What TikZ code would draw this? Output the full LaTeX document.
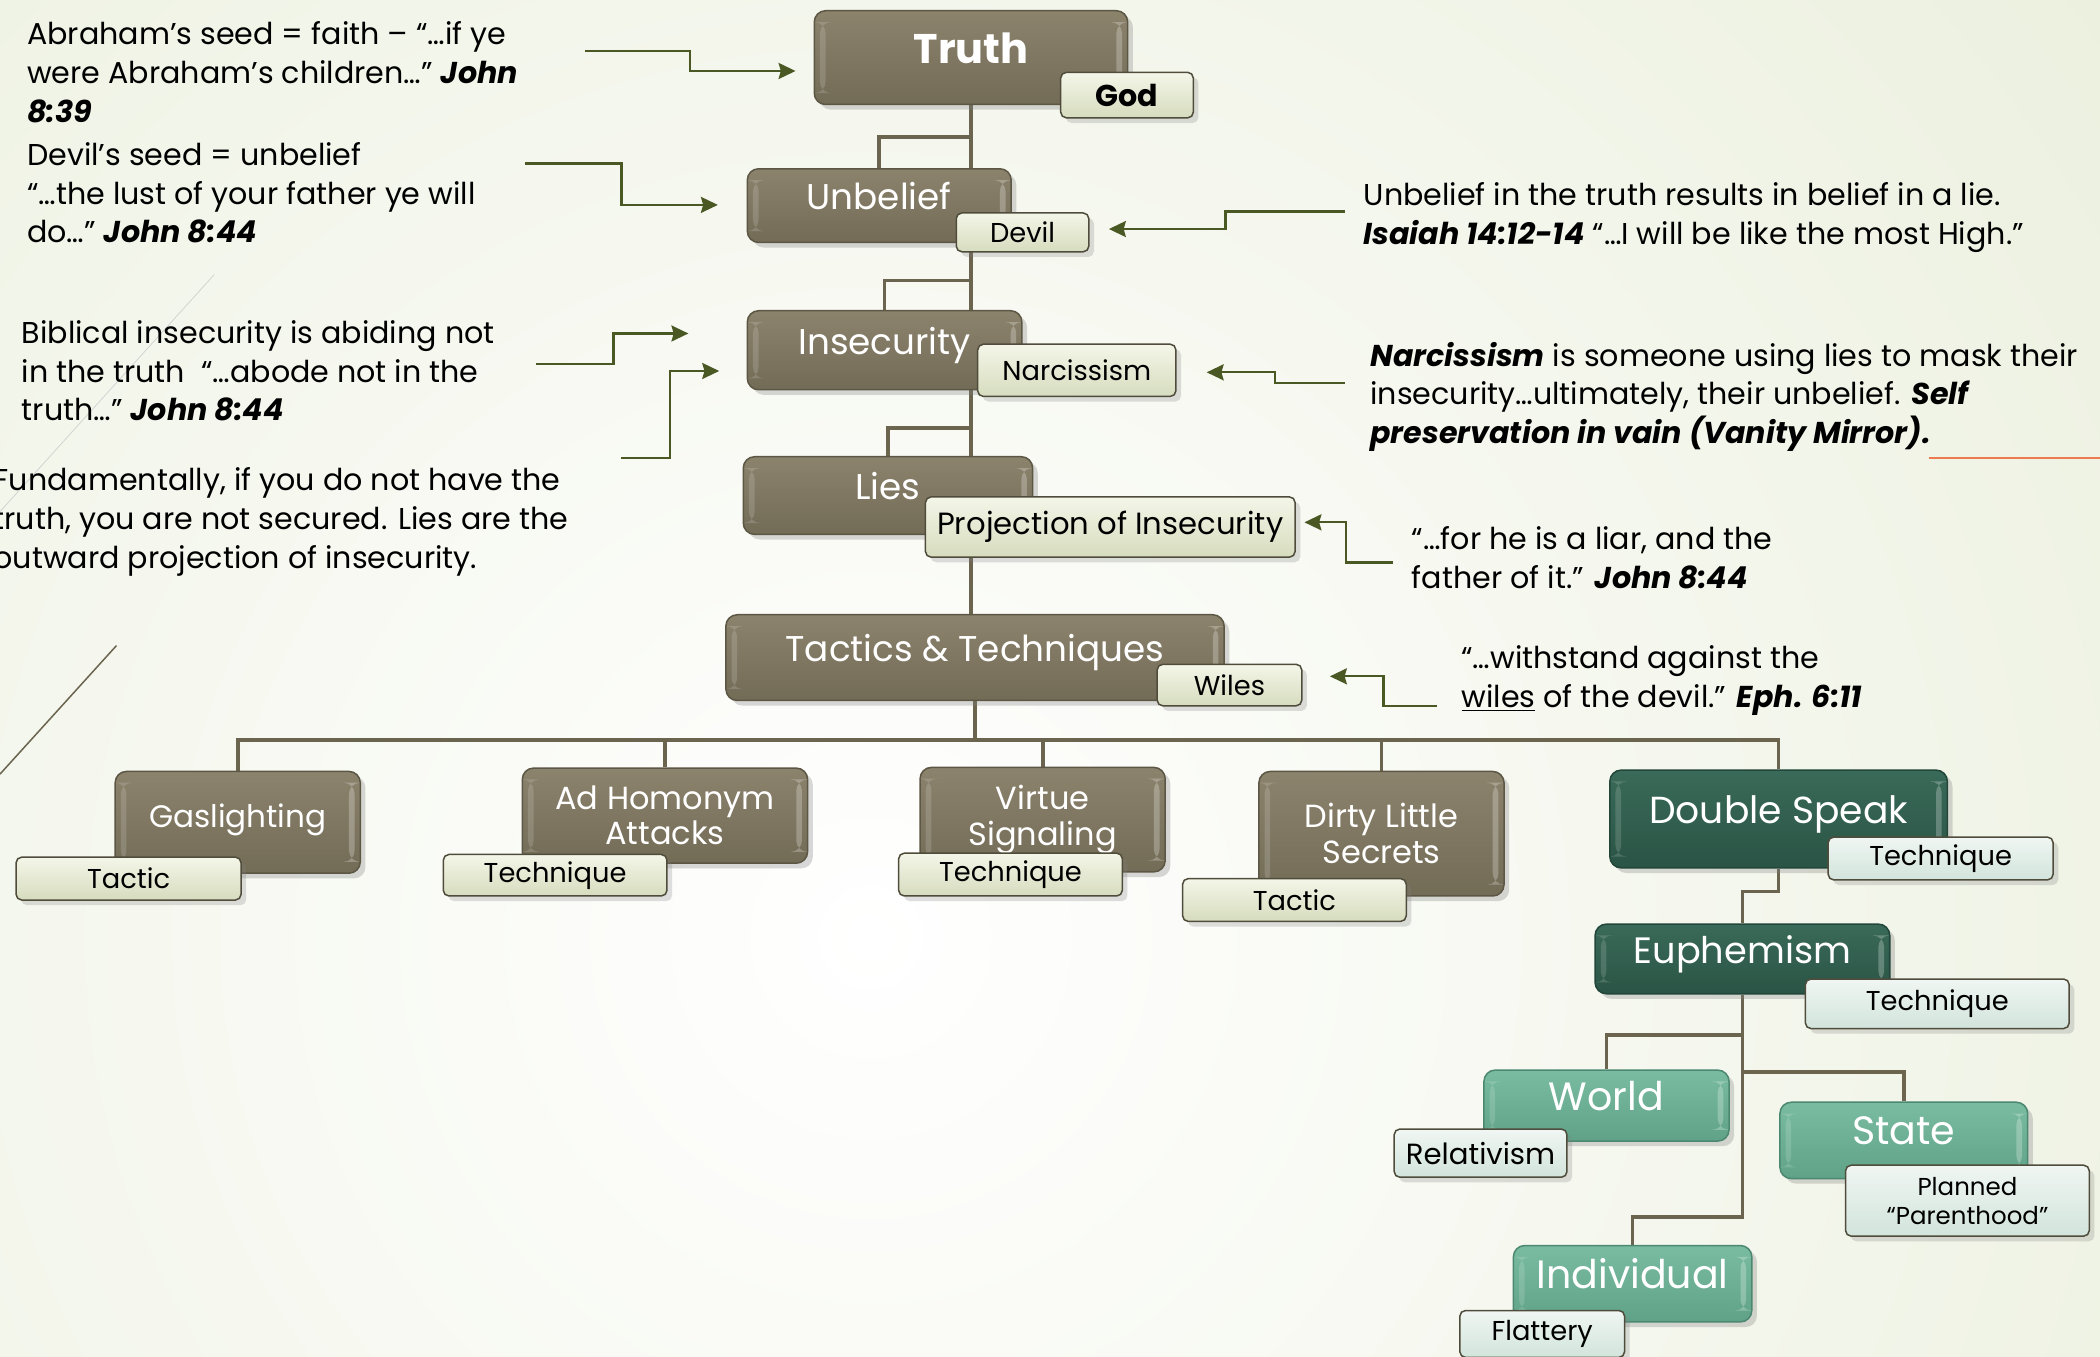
\documentclass[tikz,border=0pt]{standalone}
\usepackage{fontspec}
\setmainfont{Poppins}
\usetikzlibrary{shadows,arrows.meta}

\definecolor{bgedge}{RGB}{225,232,205}
\definecolor{boxtop}{RGB}{140,131,109}
\definecolor{boxbot}{RGB}{114,107,86}
\definecolor{boxline}{RGB}{92,86,68}
\definecolor{tagtop}{RGB}{244,246,232}
\definecolor{tagbot}{RGB}{214,220,190}
\definecolor{tagline}{RGB}{80,76,60}
\definecolor{greentop}{RGB}{58,106,89}
\definecolor{greenbot}{RGB}{42,84,69}
\definecolor{greenline}{RGB}{34,70,57}
\definecolor{tealtop}{RGB}{122,188,161}
\definecolor{tealbot}{RGB}{95,162,136}
\definecolor{tealline}{RGB}{76,136,113}
\definecolor{minttop}{RGB}{240,246,243}
\definecolor{mintbot}{RGB}{210,228,220}
\definecolor{treeline}{RGB}{107,101,80}
\definecolor{noteline}{RGB}{74,88,36}
\definecolor{accent}{RGB}{238,122,80}

\newcommand{\scrip}[1]{\textbf{\textit{#1}}}

\pgfdeclarelayer{bg}
\pgfsetlayers{bg,main}

\begin{document}
\begin{tikzpicture}[x=0.25mm,y=-0.25mm,
    wh/.style 2 args={minimum width=#1*0.25mm, minimum height=#2*0.25mm},
    lift/.style={text height=14pt, text depth=#1},
    bevel/.style={path picture={
        \fill[white,opacity=.15] ([xshift=3pt,yshift=-6pt]path picture bounding box.north west)
            rectangle ([xshift=6pt,yshift=6pt]path picture bounding box.south west);
        \fill[white,opacity=.25] ([xshift=-6pt,yshift=-6pt]path picture bounding box.north east)
            rectangle ([xshift=-3pt,yshift=6pt]path picture bounding box.south east);}},
    box/.style={draw=boxline, line width=0.8pt, rounded corners=6pt, top color=boxtop, bottom color=boxbot,
        text=white, align=center, inner sep=1pt, drop shadow={opacity=.3}, bevel,
        font=\fontsize{19}{22}\selectfont},
    greenbox/.style={box, draw=greenline, top color=greentop, bottom color=greenbot},
    tealbox/.style={box, draw=tealline, top color=tealtop, bottom color=tealbot},
    tag/.style={draw=tagline, line width=0.8pt, rounded corners=3pt, top color=tagtop, bottom color=tagbot,
        text=black, align=center, inner sep=1pt, drop shadow={opacity=.25},
        font=\fontsize{14.5}{17}\selectfont},
    minttag/.style={tag, top color=minttop, bottom color=mintbot},
    tree/.style={draw=treeline, line width=2pt},
    note/.style={draw=noteline, line width=1.2pt, -{Stealth[length=9pt,width=8.5pt,inset=1.2pt]}},
    txt/.style={anchor=north west, inner sep=0pt, align=left, font=\fontsize{16}{20.6}\selectfont}
]
\useasboundingbox (0,0) rectangle (1568,1013);

% main chain
\node[box, lift=8pt, wh={234}{70}, font=\fontsize{22}{24}\selectfont\bfseries] (truth) at (725,43) {Truth};
\node[box, lift=9.5pt, wh={197}{55}] (unbelief) at (656.5,153.5) {Unbelief};
\node[box, lift=9.5pt, wh={205}{59}] (insecurity) at (660.5,261.5) {Insecurity};
\node[box, lift=10pt, wh={216}{58}] (lies) at (663,370) {Lies};
\node[box, lift=10pt, wh={372}{64}] (tactics) at (728,491) {Tactics \& Techniques};

% tactics and techniques
\node[box, lift=9pt, wh={183}{76}, font=\fontsize{16.5}{19}\selectfont] (gaslighting) at (177.5,614) {Gaslighting};
\node[box, wh={213}{71}, font=\fontsize{17}{18.5}\selectfont] (adhom) at (496.5,609) {Ad Homonym\\Attacks};
\node[box, wh={183}{78}, font=\fontsize{17}{19}\selectfont] (virtue) at (778.5,612) {Virtue\\Signaling};
\node[box, wh={183}{93}, font=\fontsize{17}{19}\selectfont] (dirty) at (1031.5,622.5) {Dirty Little\\Secrets};
\node[greenbox, lift=9.5pt, wh={252}{73}, font=\fontsize{20}{23}\selectfont] (doublespeak) at (1328,611.5) {Double Speak};
\node[greenbox, lift=9pt, wh={220}{52}, font=\fontsize{19.5}{23}\selectfont] (euphemism) at (1301,716) {Euphemism};
\node[tealbox, lift=8.5pt, wh={183}{53}, font=\fontsize{21}{23}\selectfont] (world) at (1199.5,825.5) {World};
\node[tealbox, lift=9.5pt, wh={185}{57}, font=\fontsize{21}{23}\selectfont] (state) at (1421.5,851.5) {State};
\node[tealbox, lift=8.5pt, wh={178}{57}, font=\fontsize{21}{23}\selectfont] (individual) at (1219,958.5) {Individual};

% tags
\node[tag, wh={99}{34}, font=\fontsize{16}{18}\selectfont\bfseries] (god) at (841.5,71) {God};
\node[tag, wh={99}{29}] (devil) at (763.5,173.5) {Devil};
\node[tag, wh={148}{39}] (narcissism) at (804,276.5) {Narcissism};
\node[tag, wh={276}{45}, font=\fontsize{16.3}{18}\selectfont] (projection) at (829,393.5) {Projection of Insecurity};
\node[tag, wh={108}{31}] (wiles) at (918,511.5) {Wiles};
\node[tag, wh={168}{32}] (tacticA) at (96,656) {Tactic};
\node[tag, wh={167}{31}] (techniqueA) at (414.5,653.5) {Technique};
\node[tag, wh={167}{32}] (techniqueB) at (754.5,653) {Technique};
\node[tag, wh={167}{32}] (tacticB) at (966.5,672) {Tactic};
\node[minttag, wh={168}{32}] (techniqueC) at (1449,641) {Technique};
\node[minttag, wh={197}{37}] (techniqueD) at (1446.5,749.5) {Technique};
\node[minttag, wh={129}{36}, font=\fontsize{15.5}{17}\selectfont] (relativism) at (1105.5,861) {Relativism};
\node[minttag, wh={182}{53}, font=\fontsize{13}{15.5}\selectfont] (planned) at (1469,896.5) {Planned\\“Parenthood”};
\node[minttag, wh={123}{35}] (flattery) at (1151.5,996) {Flattery};

% notes
\node[txt] (abraham) at (20,16) {Abraham’s seed = faith – “…if ye\\were Abraham’s children…” \scrip{John}\\\scrip{8:39}};
\node[txt] (devilseed) at (20,106) {Devil’s seed = unbelief\\“…the lust of your father ye will\\do…” \scrip{John 8:44}};
\node[txt] (biblical) at (16,239) {Biblical insecurity is abiding not\\in the truth\ \ “…abode not in the\\truth…” \scrip{John 8:44}};
\node[txt] (fundamental) at (-5,349) {Fundamentally, if you do not have the\\truth, you are not secured. Lies are the\\outward projection of insecurity.};
\node[txt] (lienote) at (1018,136) {Unbelief in the truth results in belief in a lie.\\\scrip{Isaiah 14:12-14} “…I will be like the most High.”};
\node[txt] (narcnote) at (1023,255) {\scrip{Narcissism} is someone using lies to mask their\\insecurity…ultimately, their unbelief. \scrip{Self}\\\scrip{preservation in vain (Vanity Mirror).}};
\node[txt] (liarnote) at (1054,393) {“…for he is a liar, and the\\father of it.” \scrip{John 8:44}};
\node[txt] (wilesnote) at (1091,482) {“…withstand against the\\\underline{wiles} of the devil.” \scrip{Eph. 6:11}};

% note arrows
\coordinate (abrahamFrom) at (437,38);   \coordinate (abrahamTo) at (594,53);
\coordinate (devilFrom) at (392,122);    \coordinate (devilTo) at (536,153);
\coordinate (biblicalFrom) at (400,272); \coordinate (biblicalTo) at (514,249);
\coordinate (fundFrom) at (464,342);     \coordinate (fundTo) at (537,277);
\coordinate (lieFrom) at (1004,158);     \coordinate (lieTo) at (828,171);
\coordinate (narcFrom) at (1004,286);    \coordinate (narcTo) at (901,278);
\coordinate (liarFrom) at (1040,420);    \coordinate (liarTo) at (974,390);
\coordinate (wilesFrom) at (1073,527);   \coordinate (wilesTo) at (993,505);
\draw[note] (abrahamFrom) -- ++(78,0) |- (abrahamTo);
\draw[note] (devilFrom) -- ++(72,0) |- (devilTo);
\draw[note] (biblicalFrom) -- ++(58,0) |- (biblicalTo);
\draw[note] (fundFrom) -- ++(36,0) |- (fundTo);
\draw[note] (lieFrom) -- ++(-89,0) |- (lieTo);
\draw[note] (narcFrom) -- ++(-52,0) |- (narcTo);
\draw[note] (liarFrom) -- ++(-35,0) |- (liarTo);
\draw[note] (wilesFrom) -- ++(-40,0) |- (wilesTo);

\begin{pgfonlayer}{bg}
    % page
    \fill[bgedge] (0,0) rectangle (1568,1013);
    \begin{scope}
        \clip (0,0) rectangle (1568,1013);
        \shade[inner color=white, outer color=bgedge] (650,700) circle (1800);
    \end{scope}
    \draw[gray!35, thin] (160,205) -- (0,382);
    \draw[treeline, line width=0.8pt] (87,482) -- (0,578);
    \draw[accent, line width=1.2pt] (1440,342) -- (1568,342);
    % hierarchy
    \draw[tree] (truth.south) -- (truth.south |- tactics.north);
    \draw[tree] (truth.south) -- ++(0,24) -| (unbelief.north);
    \draw[tree] (insecurity.north -| truth.south) ++(0,-22) -| (insecurity.north);
    \draw[tree] (lies.north -| truth.south) ++(0,-21) -| (lies.north);
    \draw[tree] (tactics.south) -- ++(0,29) coordinate (hub);
    \draw[tree] (gaslighting.north) |- (hub) -| (doublespeak.north);
    \foreach \n in {adhom,virtue,dirty}
        \draw[tree] (hub) -| (\n.north);
    \draw[tree] (doublespeak.south) -- ++(0,17) -| (euphemism.north);
    \draw[tree] (euphemism.south) -- ++(0,166) -| (individual.north);
    \draw[tree] (euphemism.south) ++(0,30) -| (world.north);
    \draw[tree] (euphemism.south) ++(0,58) -| (state.north);
\end{pgfonlayer}
\end{tikzpicture}
\end{document}
